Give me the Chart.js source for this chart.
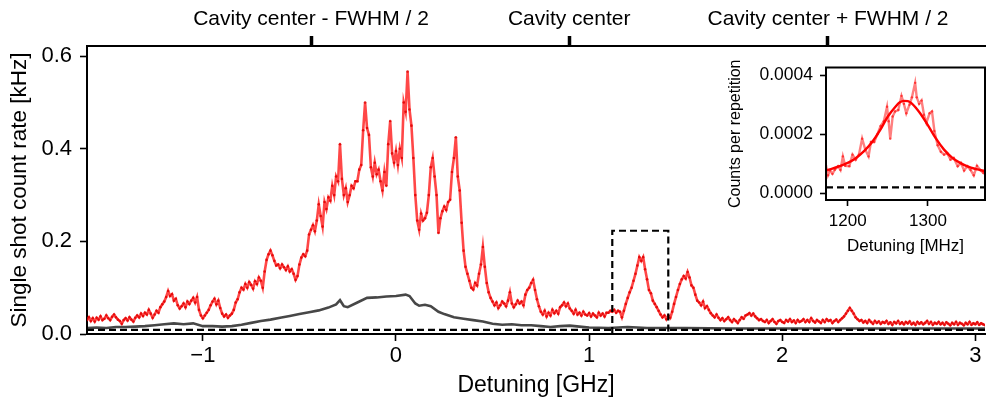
<!DOCTYPE html>
<html><head><meta charset="utf-8">
<script src="https://cdn.jsdelivr.net/npm/chart.js@4/dist/chart.umd.min.js"></script>
<style>
html,body{margin:0;padding:0;background:#fff;}
#wrap{position:relative;width:989px;height:401px;overflow:hidden;}
#main{position:absolute;left:0;top:0;width:989px;height:401px;}
#inset{position:absolute;left:720px;top:50px;width:269px;height:215px;}
</style></head><body>
<div id="wrap"><canvas id="main" width="989" height="401"></canvas><canvas id="inset" width="269" height="215"></canvas></div>
<script>
// ---------- main panel data (GHz, kHz) ----------
const detuningStartGHz = -1.60;   // sampling grid start
const detuningStepGHz = 0.01;     // sampling grid step
const signalKHz = [
0.030,0.036,0.028,0.034,0.027,0.035,0.031,0.038,0.030,0.033,
0.040,0.034,0.030,0.037,0.042,0.036,0.031,0.028,0.022,0.030,
0.034,0.029,0.036,0.031,0.027,0.035,0.040,0.036,0.044,0.039,
0.046,0.042,0.052,0.044,0.035,0.042,0.050,0.046,0.058,0.064,
0.070,0.080,0.093,0.082,0.086,0.072,0.076,0.062,0.055,0.060,
0.066,0.058,0.070,0.065,0.072,0.078,0.068,0.080,0.052,0.040,
0.034,0.040,0.046,0.052,0.062,0.070,0.076,0.064,0.072,0.056,
0.044,0.038,0.042,0.035,0.040,0.044,0.052,0.068,0.075,0.090,
0.100,0.096,0.108,0.100,0.112,0.106,0.098,0.114,0.108,0.122,
0.115,0.100,0.135,0.160,0.172,0.180,0.170,0.158,0.148,0.150,
0.142,0.150,0.144,0.138,0.146,0.135,0.140,0.130,0.117,0.125,
0.150,0.165,0.172,0.168,0.180,0.215,0.225,0.235,0.222,0.245,
0.280,0.255,0.232,0.285,0.270,0.295,0.288,0.320,0.300,0.340,
0.330,0.410,0.335,0.300,0.315,0.285,0.300,0.320,0.315,0.330,
0.330,0.355,0.365,0.440,0.500,0.445,0.430,0.360,0.340,0.370,
0.345,0.355,0.330,0.310,0.350,0.320,0.410,0.460,0.390,0.370,
0.395,0.365,0.400,0.380,0.500,0.480,0.567,0.485,0.450,0.380,
0.300,0.245,0.225,0.260,0.245,0.250,0.262,0.300,0.360,0.380,
0.340,0.300,0.218,0.250,0.265,0.275,0.268,0.285,0.290,0.350,
0.380,0.425,0.340,0.310,0.240,0.180,0.145,0.130,0.115,0.100,
0.096,0.110,0.105,0.130,0.150,0.188,0.145,0.110,0.090,0.078,
0.070,0.062,0.068,0.056,0.062,0.070,0.066,0.060,0.072,0.090,
0.066,0.058,0.064,0.072,0.066,0.070,0.062,0.085,0.095,0.100,
0.110,0.117,0.095,0.075,0.060,0.048,0.042,0.050,0.038,0.046,
0.040,0.052,0.045,0.050,0.044,0.058,0.062,0.068,0.060,0.066,
0.055,0.050,0.044,0.052,0.042,0.046,0.040,0.048,0.042,0.040,
0.045,0.038,0.044,0.040,0.036,0.046,0.040,0.044,0.038,0.046,
0.046,0.050,0.048,0.052,0.046,0.050,0.048,0.036,0.050,0.065,
0.078,0.090,0.100,0.115,0.130,0.148,0.166,0.158,0.166,0.140,
0.118,0.095,0.088,0.072,0.065,0.058,0.050,0.042,0.036,0.040,
0.032,0.040,0.035,0.048,0.065,0.080,0.095,0.108,0.118,0.125,
0.120,0.134,0.122,0.105,0.100,0.085,0.072,0.068,0.062,0.070,
0.056,0.060,0.052,0.045,0.040,0.036,0.042,0.035,0.030,0.034,
0.028,0.032,0.036,0.030,0.026,0.032,0.028,0.024,0.030,0.036,
0.033,0.040,0.042,0.045,0.040,0.044,0.038,0.034,0.030,0.032,
0.028,0.026,0.030,0.024,0.028,0.032,0.026,0.022,0.028,0.030,
0.026,0.024,0.030,0.027,0.032,0.026,0.029,0.024,0.030,0.026,
0.028,0.032,0.026,0.030,0.026,0.034,0.028,0.025,0.030,0.027,
0.024,0.030,0.026,0.032,0.028,0.030,0.024,0.028,0.031,0.026,
0.030,0.034,0.038,0.044,0.050,0.056,0.050,0.044,0.036,0.032,
0.028,0.030,0.025,0.028,0.024,0.030,0.026,0.022,0.028,0.024,
0.027,0.022,0.026,0.024,0.028,0.022,0.025,0.020,0.026,0.023,
0.028,0.022,0.025,0.021,0.026,0.023,0.027,0.021,0.024,0.020,
0.026,0.022,0.025,0.021,0.024,0.028,0.022,0.026,0.020,0.024,
0.022,0.026,0.021,0.024,0.020,0.025,0.022,0.019,0.024,0.021,
0.026,0.020,0.024,0.022,0.019,0.024,0.021,0.026,0.020,0.023,
0.021,0.025,0.020,0.023,0.021,0.019
];
const detuningGHz = signalKHz.map((_, i) => Math.round((detuningStartGHz + detuningStepGHz * i) * 100) / 100);

const backgroundGHz = [-1.60,-1.55,-1.50,-1.45,-1.40,-1.35,-1.30,-1.25,-1.20,-1.15,-1.10,-1.05,-1.00,-0.95,-0.90,-0.85,-0.80,-0.75,-0.70,-0.65,-0.60,-0.55,-0.50,-0.45,-0.40,-0.35,-0.31,-0.29,-0.27,-0.25,-0.20,-0.15,-0.10,-0.05,0.00,0.05,0.07,0.10,0.12,0.15,0.18,0.22,0.25,0.30,0.35,0.40,0.45,0.50,0.55,0.60,0.65,0.70,0.75,0.80,0.85,0.90,0.95,1.00,1.10,1.20,1.30,1.50,1.75,2.00,2.50,3.05];
const backgroundKHz = [0.013,0.014,0.013,0.015,0.015,0.016,0.017,0.019,0.021,0.023,0.021,0.023,0.017,0.017,0.016,0.017,0.020,0.024,0.028,0.031,0.035,0.039,0.043,0.047,0.051,0.057,0.064,0.073,0.060,0.058,0.068,0.078,0.079,0.081,0.082,0.085,0.082,0.066,0.061,0.063,0.060,0.048,0.043,0.036,0.033,0.030,0.027,0.022,0.020,0.021,0.019,0.019,0.017,0.015,0.017,0.018,0.016,0.014,0.013,0.015,0.013,0.013,0.012,0.012,0.012,0.012];

const darkLevelKHz = 0.009;
const zoomBoxGHz = [1.12, 1.41];
const zoomBoxTopKHz = 0.223;

const xTicksGHz = [-1, 0, 1, 2, 3];
const yTicksKHz = [0.0, 0.2, 0.4, 0.6];
const cavityTicksGHz = [-0.44, 0.897, 2.237];
const cavityLabels = ['Cavity center - FWHM / 2', 'Cavity center', 'Cavity center + FWHM / 2'];

// ---------- inset data (MHz, counts per repetition) ----------
const insetMHz = [1173,1175.5,1178,1181,1184,1188,1191,1194,1197,1202,1206,1210,1214,1218,1222,1226,1229,1233,1237,1241,1245,1249,1251,1253,1256,1259,1263,1267,1270,1273,1277,1280,1284,1286,1289,1292,1295,1298,1302,1305,1308,1312,1316,1320,1324,1328,1332,1337,1341,1345,1349,1353,1357,1361,1365,1369,1371];
const insetCounts = [9.3e-5,6.1e-5,7.7e-5,6.6e-5,8.0e-5,9.2e-5,7.9e-5,1.25e-4,9.3e-5,9.2e-5,1.31e-4,1.14e-4,1.31e-4,1.85e-4,1.47e-4,1.25e-4,1.74e-4,1.74e-4,2.00e-4,2.28e-4,2.44e-4,2.93e-4,2.44e-4,1.85e-4,2.60e-4,2.77e-4,2.82e-4,3.30e-4,3.03e-4,2.71e-4,3.00e-4,3.25e-4,3.74e-4,3.25e-4,3.03e-4,3.14e-4,2.66e-4,2.39e-4,2.71e-4,2.77e-4,2.11e-4,1.63e-4,1.41e-4,1.31e-4,1.36e-4,1.14e-4,1.20e-4,9.2e-5,1.03e-4,7.7e-5,9.2e-5,7.9e-5,6.1e-5,9.3e-5,7.9e-5,6.9e-5,7.2e-5];
const fitMHz = [1173,1180,1190,1200,1210,1220,1230,1240,1250,1260,1265,1270,1275,1280,1290,1300,1310,1320,1330,1340,1350,1360,1371];
const fitCounts = [7.8e-5,8.3e-5,9.2e-5,1.03e-4,1.19e-4,1.42e-4,1.72e-4,2.12e-4,2.60e-4,2.95e-4,3.08e-4,3.13e-4,3.12e-4,3.04e-4,2.72e-4,2.30e-4,1.85e-4,1.48e-4,1.21e-4,1.03e-4,9.0e-5,8.2e-5,7.5e-5];
const insetDarkLevel = 2.0e-5;
const insetXTicks = [1200, 1300];
const insetYTicks = [0.0, 0.0002, 0.0004];

// ---------- rendering ----------
const FONT = "'Liberation Sans', Arial, Helvetica, sans-serif";
Chart.defaults.font.family = FONT;
Chart.defaults.color = '#000';

const pts = (xs, ys) => xs.map((x, i) => ({x: x, y: ys[i]}));
const X_MIN = -1.6, X_MAX = 3.05, Y_MIN = 0, Y_MAX = 0.622;
const DASH = [7, 4];

const whiteBg = {
  id: 'whiteBg',
  beforeDraw(chart) {
    const c = chart.ctx;
    c.save(); c.fillStyle = '#fff'; c.fillRect(0, 0, chart.width, chart.height); c.restore();
  }
};

new Chart(document.getElementById('main'), {
  type: 'line',
  data: {
    datasets: [
      {data: [{x: X_MIN, y: darkLevelKHz}, {x: X_MAX, y: darkLevelKHz}], borderColor: '#000', borderWidth: 2.2, borderDash: DASH, pointRadius: 0, order: 1},
      {data: [{x: zoomBoxGHz[0], y: 0}, {x: zoomBoxGHz[0], y: zoomBoxTopKHz}, {x: zoomBoxGHz[1], y: zoomBoxTopKHz}, {x: zoomBoxGHz[1], y: 0}], borderColor: '#000', borderWidth: 2.2, borderDash: DASH, pointRadius: 0, order: 1},
      {data: pts(detuningGHz, signalKHz), borderColor: 'rgba(255,0,0,0.72)', borderWidth: 2.6, pointRadius: 1.3, pointBackgroundColor: 'rgba(225,0,0,0.85)', pointBorderWidth: 0, order: 2},
      {data: pts(backgroundGHz, backgroundKHz), borderColor: 'rgba(0,0,0,0.72)', borderWidth: 2.6, pointRadius: 0, order: 3}
    ]
  },
  options: {
    responsive: false, animation: false, devicePixelRatio: 1,
    layout: {padding: 0},
    plugins: {legend: {display: false}, tooltip: {enabled: false}},
    elements: {line: {tension: 0}},
    scales: {
      x: {
        type: 'linear', position: 'bottom', min: X_MIN, max: X_MAX,
        afterBuildTicks: s => { s.ticks = xTicksGHz.map(v => ({value: v})); },
        afterFit: s => { s.height = 67; },
        ticks: {font: {size: 22}, padding: 2, maxRotation: 0, autoSkip: false,
          callback: v => (v < 0 ? '\u2212' + Math.abs(v) : String(v))},
        grid: {display: true, drawOnChartArea: false, drawTicks: true, tickLength: 7, tickWidth: 1.6, tickColor: '#000'},
        border: {display: true, color: '#000', width: 2},
        title: {display: true, text: 'Detuning [GHz]', font: {size: 23}, padding: {top: 0, bottom: 2}}
      },
      xTop: {
        type: 'linear', position: 'top', min: X_MIN, max: X_MAX,
        afterBuildTicks: s => { s.ticks = cavityTicksGHz.map(v => ({value: v})); },
        afterFit: s => { s.height = 46; },
        ticks: {font: {size: 21}, padding: 4, maxRotation: 0, autoSkip: false,
          callback: (v, i) => cavityLabels[i]},
        grid: {display: true, drawOnChartArea: false, drawTicks: true, tickLength: 10, tickWidth: 3.5, tickColor: '#000'},
        border: {display: true, color: '#000', width: 2}
      },
      y: {
        type: 'linear', position: 'left', min: Y_MIN, max: Y_MAX,
        afterBuildTicks: s => { s.ticks = yTicksKHz.map(v => ({value: v})); },
        afterFit: s => { s.width = 87; },
        ticks: {font: {size: 22}, padding: 8, callback: v => v.toFixed(1)},
        grid: {display: true, drawOnChartArea: false, drawTicks: true, tickLength: 7, tickWidth: 1.6, tickColor: '#000'},
        border: {display: true, color: '#000', width: 2},
        title: {display: true, text: 'Single shot count rate [kHz]', font: {size: 22.5}, padding: {top: 6, bottom: 0}}
      }
    }
  },
  plugins: [whiteBg]
});

const insetFrame = {
  id: 'insetFrame',
  beforeDatasetsDraw(chart) {
    const a = chart.chartArea, c = chart.ctx;
    c.save(); c.fillStyle = '#fff'; c.fillRect(a.left, a.top, a.right - a.left, a.bottom - a.top); c.restore();
  },
  afterDraw(chart) {
    const a = chart.chartArea, c = chart.ctx;
    c.save(); c.strokeStyle = '#000'; c.lineWidth = 2;
    c.strokeRect(a.left, a.top, a.right - a.left, a.bottom - a.top); c.restore();
  }
};

new Chart(document.getElementById('inset'), {
  type: 'line',
  data: {
    datasets: [
      {data: [{x: 1173, y: insetDarkLevel}, {x: 1371, y: insetDarkLevel}], borderColor: '#000', borderWidth: 2.2, borderDash: DASH, pointRadius: 0, order: 1},
      {data: pts(fitMHz, fitCounts), borderColor: '#ff0000', borderWidth: 2.4, pointRadius: 0, cubicInterpolationMode: 'monotone', order: 2},
      {data: pts(insetMHz, insetCounts), borderColor: 'rgba(255,0,0,0.5)', borderWidth: 2.4, pointRadius: 1.2, pointBackgroundColor: 'rgba(255,0,0,0.6)', pointBorderWidth: 0, order: 3}
    ]
  },
  options: {
    responsive: false, animation: false, devicePixelRatio: 1,
    layout: {padding: {top: 11, right: 1, left: 0, bottom: 0}},
    plugins: {legend: {display: false}, tooltip: {enabled: false}},
    scales: {
      x: {
        type: 'linear', position: 'bottom', min: 1173, max: 1371,
        afterBuildTicks: s => { s.ticks = insetXTicks.map(v => ({value: v})); },
        afterFit: s => { s.height = 65; },
        ticks: {font: {size: 17}, padding: 5, maxRotation: 0, autoSkip: false, callback: v => String(v)},
        grid: {display: true, drawOnChartArea: false, drawTicks: true, tickLength: 6, tickWidth: 1.6, tickColor: '#000'},
        border: {display: false},
        title: {display: true, text: 'Detuning [MHz]', font: {size: 17}, padding: {top: 0, bottom: 8}}
      },
      y: {
        type: 'linear', position: 'left', min: -0.0000226, max: 0.000426,
        afterBuildTicks: s => { s.ticks = insetYTicks.map(v => ({value: v})); },
        afterFit: s => { s.width = 106; },
        ticks: {font: {size: 17.5}, padding: 7, callback: v => v.toFixed(4)},
        grid: {display: true, drawOnChartArea: false, drawTicks: true, tickLength: 6, tickWidth: 1.6, tickColor: '#000'},
        border: {display: false},
        title: {display: true, text: 'Counts per repetition', font: {size: 16}, padding: {top: 6, bottom: 0}}
      }
    }
  },
  plugins: [insetFrame]
});
</script></body></html>
